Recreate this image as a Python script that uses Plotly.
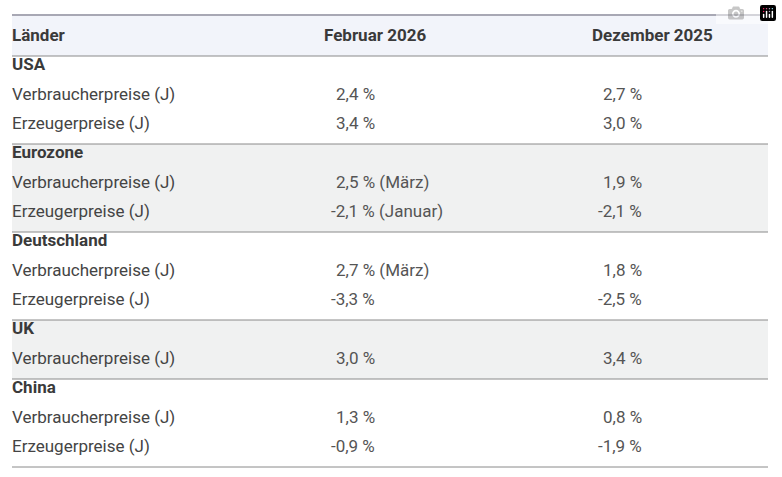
import plotly.graph_objects as go

# Table data
col_headers = ["Länder", "Februar 2026", "Dezember 2025"]
groups = ["USA", "Eurozone", "Deutschland", "UK", "China"]
items = [
    ["Verbraucherpreise (J)", "Erzeugerpreise (J)"],
    ["Verbraucherpreise (J)", "Erzeugerpreise (J)"],
    ["Verbraucherpreise (J)", "Erzeugerpreise (J)"],
    ["Verbraucherpreise (J)"],
    ["Verbraucherpreise (J)", "Erzeugerpreise (J)"],
]
feb_2026 = [
    ["2,4 %", "3,4 %"],
    ["2,5 % (März)", "-2,1 % (Januar)"],
    ["2,7 % (März)", "-3,3 %"],
    ["3,0 %"],
    ["1,3 %", "-0,9 %"],
]
dez_2025 = [
    ["2,7 %", "3,0 %"],
    ["1,9 %", "-2,1 %"],
    ["1,8 %", "-2,5 %"],
    ["3,4 %"],
    ["0,8 %", "-1,9 %"],
]
shaded = [False, True, False, True, False]

W, H = 782, 477
x0, x1 = 12, 768
top, head_bottom = 15, 56
row_h = 29

fig = go.Figure()
shapes = []
ann = []

def text(x, y, s, bold=False, anchor="left", color="#3a3a3a"):
    ann.append(dict(x=x, y=y, text=f"<b>{s}</b>" if bold else s, showarrow=False,
                    xanchor=anchor, yanchor="middle", xref="x", yref="y",
                    font=dict(family="Roboto", size=17, color=color)))

shapes.append(dict(type="rect", x0=x0, x1=x1, y0=top, y1=head_bottom,
                   fillcolor="#f2f4fa", line_width=0, layer="below"))
shapes.append(dict(type="line", x0=x0, x1=x1, y0=top, y1=top,
                   line=dict(color="#a8a8b4", width=2)))
text(x0 - 2, 35, col_headers[0], bold=True)
text(375, 35, col_headers[1], bold=True, anchor="center")
text(652, 35, col_headers[2], bold=True, anchor="center")

y = head_bottom
for g, name in enumerate(groups):
    n = len(items[g])
    y_end = y + 30 + n * row_h
    if shaded[g]:
        shapes.append(dict(type="rect", x0=x0, x1=x1, y0=y, y1=y_end,
                           fillcolor="#f0f1f1", line_width=0, layer="below"))
    shapes.append(dict(type="line", x0=x0, x1=x1, y0=y, y1=y,
                       line=dict(color="#8a8a8a", width=1)))
    text(x0 - 2, y + 8, name, bold=True)
    for i in range(n):
        yc = y + 38 + i * row_h
        text(x0 - 2, yc, items[g][i], color="#444")
        v = feb_2026[g][i]
        text(329 if v.startswith("-") else 334, yc, v, color="#555")
        v = dez_2025[g][i]
        text(596 if v.startswith("-") else 601, yc, v, color="#555")
    y = y_end
shapes.append(dict(type="line", x0=x0, x1=x1, y0=y, y1=y,
                   line=dict(color="#8a8a8a", width=1)))

fig.update_layout(
    width=W, height=H, margin=dict(l=0, r=0, t=0, b=0),
    plot_bgcolor="white", paper_bgcolor="white",
    shapes=shapes, annotations=ann, showlegend=False,
    xaxis=dict(range=[0, W], visible=False, fixedrange=True),
    yaxis=dict(range=[H, 0], visible=False, fixedrange=True),
)
fig.write_html("out.html", post_script="document.body.style.margin='0';")
